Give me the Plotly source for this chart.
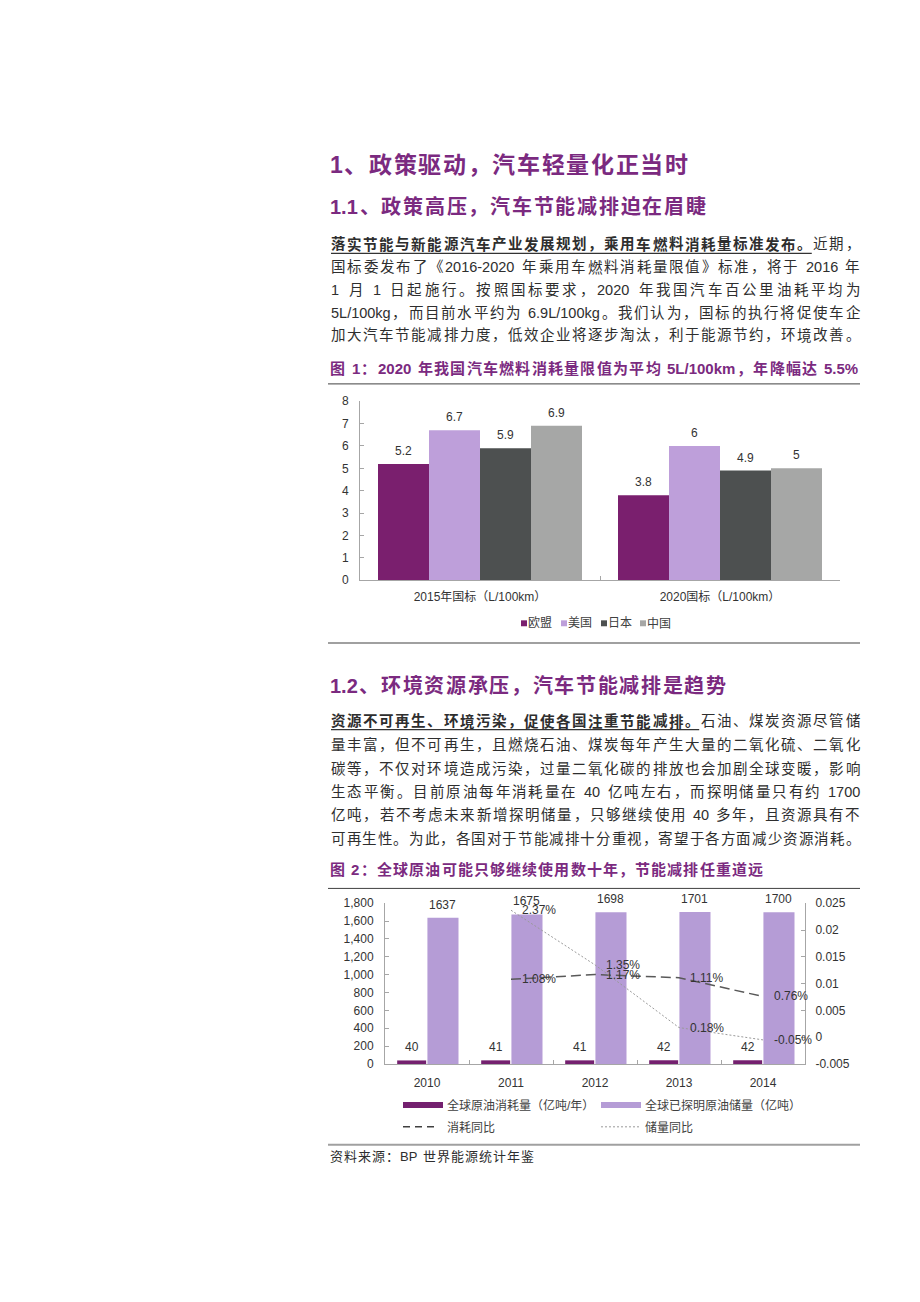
import plotly.graph_objects as go

W, H = 920, 1302


def px(x):
    return x / W


def py(y):
    return 1 - y / H


# ---------------- data ----------------
# Figure 1
cat1 = ["2015年国标（L/100km）", "2020国标（L/100km）"]
regions = ["欧盟", "美国", "日本", "中国"]
eu_vals = [5.2, 3.8]
us_vals = [6.7, 6.0]
jp_vals = [5.9, 4.9]
cn_vals = [6.9, 5.0]
y1_ticks = [0, 1, 2, 3, 4, 5, 6, 7, 8]

# Figure 2
years = ["2010", "2011", "2012", "2013", "2014"]
consumption = [40, 41, 41, 42, 42]
reserves = [1637, 1675, 1698, 1701, 1700]
yoy_years = ["2011", "2012", "2013", "2014"]
cons_yoy = [0.0108, 0.0117, 0.0111, 0.0076]
res_yoy = [0.0237, 0.0135, 0.0018, -0.0005]
left_ticks = [0, 200, 400, 600, 800, 1000, 1200, 1400, 1600, 1800]
right_tickvals = [-0.005, 0, 0.005, 0.01, 0.015, 0.02, 0.025]
right_ticktext = ["-0.005", "0", "0.005", "0.01", "0.015", "0.02", "0.025"]
series2 = ["全球原油消耗量（亿吨/年）", "全球已探明原油储量（亿吨）", "消耗同比", "储量同比"]

# ---------------- styles ----------------
FONT = "Liberation Sans, Arial, Noto Sans CJK SC, sans-serif"
PURPLE = "#7B2A80"
BODY = "#2e2e2e"
TXT = "#333333"
AX = "#A6A6A6"
colors1 = ["#7A1F6E", "#BE9FDA", "#4D5050", "#A6A7A6"]
c_cons = "#74206F"
c_res = "#B59CD6"

annotations = []
shapes = []

W_REG = {'.': 0.278, ',': 0.278, '/': 0.278, '-': 0.333, '%': 0.889, 'L': 0.556,
         'k': 0.5, 'g': 0.556, 'm': 0.833, 'B': 0.667, 'P': 0.667}
W_BOLD = {'.': 0.278, ',': 0.278, '/': 0.278, '-': 0.333, '%': 0.889, 'L': 0.611,
          'k': 0.556, 'g': 0.611, 'm': 0.889, 'B': 0.722, 'P': 0.667}


def tok_width(t, size, bold):
    if t == ' ':
        return 0.278 * size
    if ord(t[0]) >= 0x2E80:
        return size
    tab = W_BOLD if bold else W_REG
    return sum(tab.get(c, 0.556) for c in t) * size


def tokenize(segments):
    toks = []
    for text, bold in segments:
        buf = ''
        for ch in text:
            if ord(ch) >= 0x2E80 or ch == ' ':
                if buf:
                    toks.append((buf, bold))
                    buf = ''
                toks.append((ch, bold))
            else:
                buf += ch
        if buf:
            toks.append((buf, bold))
    return toks


def text_line(segments, x0, x1, yc, size, color):
    toks = tokenize(segments)
    widths = [tok_width(t, size, b) for t, b in toks]
    n = len(toks)
    gap = (x1 - x0 - sum(widths)) / (n - 1) if n > 1 else 0
    x = x0
    bold_end = None
    for (t, b), w in zip(toks, widths):
        if t != ' ':
            annotations.append(dict(
                xref='paper', yref='paper', x=px(x), y=py(yc),
                xanchor='left', yanchor='middle', showarrow=False,
                text=('<b>%s</b>' % t) if b else t,
                font=dict(family=FONT, size=size, color=color),
                borderpad=0, borderwidth=0))
        if b:
            bold_end = x + w
        x += w + gap
    return bold_end


def hline(x0, x1, y, color, width, dash='solid'):
    shapes.append(dict(type='line', xref='paper', yref='paper',
                       x0=px(x0), x1=px(x1), y0=py(y), y1=py(y),
                       line=dict(color=color, width=width, dash=dash)))


def rect(x0, x1, y0, y1, color):
    shapes.append(dict(type='rect', xref='paper', yref='paper',
                       x0=px(x0), x1=px(x1), y0=py(y1), y1=py(y0),
                       fillcolor=color, line=dict(width=0)))


def label(x, y, text, size=12, color=TXT, anchor='left'):
    annotations.append(dict(xref='paper', yref='paper', x=px(x), y=py(y),
                            xanchor=anchor, yanchor='middle', showarrow=False,
                            text=text, font=dict(family=FONT, size=size, color=color),
                            borderpad=0, borderwidth=0))


# ---------------- page text ----------------
L, R = 331, 860
text_line([("1、政策驱动，汽车轻量化正当时", True)], 330, 688, 160, 23, PURPLE)
text_line([("1.1、政策高压，汽车节能减排迫在眉睫", True)], 330, 706, 202, 20, PURPLE)

para1 = [
    [("落实节能与新能源汽车产业发展规划，乘用车燃料消耗量标准发布。", True), ("近期，", False)],
    [("国标委发布了《2016-2020 年乘用车燃料消耗量限值》标准，将于 2016 年", False)],
    [("1 月 1 日起施行。按照国标要求，2020 年我国汽车百公里油耗平均为", False)],
    [("5L/100kg，而目前水平约为 6.9L/100kg。我们认为，国标的执行将促使车企", False)],
    [("加大汽车节能减排力度，低效企业将逐步淘汰，利于能源节约，环境改善。", False)],
]
p1_y = [240, 263, 286, 309, 332]
for segs, yy in zip(para1, p1_y):
    be = text_line(segs, L, R, yy, 14.5, BODY)
    if be:
        hline(L, be, yy + 9, '#333333', 1.2)

text_line([("图 1：2020 年我国汽车燃料消耗量限值为平均 5L/100km，年降幅达 5.5%", True)],
          330, 858, 365, 15, PURPLE)
hline(328, 860, 381, '#404040', 1)
hline(328, 860, 643, '#A0A0A0', 2)

text_line([("1.2、环境资源承压，汽车节能减排是趋势", True)], 330, 726, 686, 20, PURPLE)
para2 = [
    [("资源不可再生、环境污染，促使各国注重节能减排。", True), ("石油、煤炭资源尽管储", False)],
    [("量丰富，但不可再生，且燃烧石油、煤炭每年产生大量的二氧化硫、二氧化", False)],
    [("碳等，不仅对环境造成污染，过量二氧化碳的排放也会加剧全球变暖，影响", False)],
    [("生态平衡。目前原油每年消耗量在 40 亿吨左右，而探明储量只有约 1700", False)],
    [("亿吨，若不考虑未来新增探明储量，只够继续使用 40 多年，且资源具有不", False)],
    [("可再生性。为此，各国对于节能减排十分重视，寄望于各方面减少资源消耗。", False)],
]
p2_y = [722, 746, 770, 794, 817, 841]
for segs, yy in zip(para2, p2_y):
    be = text_line(segs, L, R, yy, 14.5, BODY)
    if be:
        hline(L, be, yy + 8.5, '#333333', 1.2)

text_line([("图 2：全球原油可能只够继续使用数十年，节能减排任重道远", True)],
          330, 763, 872, 15, PURPLE)
hline(328, 860, 891, '#404040', 1)
hline(328, 860, 1150, '#A0A0A0', 2)
text_line([("资料来源：BP 世界能源统计年鉴", False)], 330, 534, 1162, 13, BODY)

# ---------------- figure ----------------
fig = go.Figure()

# Chart 1 bars
vals1 = [eu_vals, us_vals, jp_vals, cn_vals]
bw = 0.2125
cat_px1 = 240.0
for i, (name, vals) in enumerate(zip(regions, vals1)):
    off = -0.425 + i * bw
    fig.add_trace(go.Bar(x=cat1, y=vals, name=name, width=bw, offset=off,
                         marker=dict(color=colors1[i], line=dict(width=0)),
                         xaxis='x', yaxis='y'))
    for ci, v in enumerate(vals):
        annotations.append(dict(xref='x', yref='y', x=ci, y=v,
                                xshift=(off + bw / 2) * cat_px1, yshift=13,
                                xanchor='center', yanchor='middle', showarrow=False,
                                text='%g' % v, font=dict(family=FONT, size=12, color=TXT)))

# Chart 1 legend (manual)
leg_x = [521, 561, 601, 640]
for i, name in enumerate(regions):
    rect(leg_x[i], leg_x[i] + 6, 620, 626, colors1[i])
    label(leg_x[i] + 7, 623, name, 12, '#404040')

# Chart 2 bars
cat_px2 = 84.0
w_c, o_c = 0.345, -0.355
w_r, o_r = 0.37, 0.005
fig.add_trace(go.Bar(x=years, y=consumption, name=series2[0], width=w_c, offset=o_c,
                     marker=dict(color=c_cons, line=dict(width=0)), xaxis='x2', yaxis='y2'))
fig.add_trace(go.Bar(x=years, y=reserves, name=series2[1], width=w_r, offset=o_r,
                     marker=dict(color=c_res, line=dict(width=0)), xaxis='x2', yaxis='y2'))
for yi, v in enumerate(consumption):
    annotations.append(dict(xref='x2', yref='y2', x=yi, y=v,
                            xshift=(o_c + w_c / 2) * cat_px2, yshift=13,
                            xanchor='center', yanchor='middle', showarrow=False,
                            text=str(v), font=dict(family=FONT, size=12, color=TXT)))
for yi, v in enumerate(reserves):
    annotations.append(dict(xref='x2', yref='y2', x=yi, y=v,
                            xshift=(o_r + w_r / 2) * cat_px2, yshift=13,
                            xanchor='center', yanchor='middle', showarrow=False,
                            text=str(v), font=dict(family=FONT, size=12, color=TXT)))

# Chart 2 lines (secondary axis)
fig.add_trace(go.Scatter(x=yoy_years, y=cons_yoy, name=series2[2], mode='lines',
                         line=dict(color='#595959', width=1.5, dash='10px,5px'),
                         xaxis='x2', yaxis='y3'))
fig.add_trace(go.Scatter(x=yoy_years, y=res_yoy, name=series2[3], mode='lines',
                         line=dict(color='#9A9A9A', width=1, dash='2px,2px'),
                         xaxis='x2', yaxis='y3'))
for arr in (cons_yoy, res_yoy):
    for yr, v in zip(yoy_years, arr):
        annotations.append(dict(xref='x2', yref='y3', x=years.index(yr), y=v, xshift=11,
                                xanchor='left', yanchor='middle', showarrow=False,
                                text='%.2f%%' % (v * 100),
                                font=dict(family=FONT, size=12, color=TXT),
                                borderpad=0, borderwidth=0))

# Chart 2 legend (manual)
rect(403, 443, 1107, 1113, c_cons)
label(447, 1110, series2[0], 12, '#404040')
rect(601, 641, 1107, 1113, c_res)
label(645, 1110, series2[1], 12, '#404040')
hline(403, 437, 1132, '#404040', 1.5, '7px,5px')
label(447, 1133, series2[2], 12, '#404040')
hline(601, 641, 1132, '#9A9A9A', 1, '2px,2px')
label(645, 1133, series2[3], 12, '#404040')

axis_common = dict(showline=True, linecolor=AX, linewidth=1, ticks='inside', ticklen=4,
                   tickcolor=AX, showgrid=False, zeroline=False,
                   tickfont=dict(family=FONT, size=12, color=TXT))

fig.update_layout(
    width=W, height=H, margin=dict(l=0, r=0, t=0, b=0),
    paper_bgcolor='white', plot_bgcolor='white', showlegend=False,
    barmode='group',
    font=dict(family=FONT, size=12, color=TXT),
    xaxis=dict(domain=[px(360), px(840)], anchor='y', type='category',
               range=[-0.5, 1.5], autorange=False,
               tickson='boundaries', ticklabelstandoff=5, **axis_common),
    yaxis=dict(domain=[py(579.5), py(398.5)], anchor='x', range=[0, 8], autorange=False,
               tickvals=y1_ticks, ticklabelstandoff=8, **axis_common),
    xaxis2=dict(domain=[px(385), px(805)], anchor='y2', type='category',
                range=[-0.5, 4.5], autorange=False, tickangle=0,
                tickson='boundaries', ticklabelstandoff=8, **axis_common),
    yaxis2=dict(domain=[py(1068.5), py(906)], anchor='x2', range=[0, 1800], autorange=False,
                tickvals=left_ticks, tickformat=',', ticklabelstandoff=8, **axis_common),
    yaxis3=dict(overlaying='y2', side='right', anchor='x2', range=[-0.005, 0.025],
                autorange=False, tickvals=right_tickvals, ticktext=right_ticktext,
                ticklabelstandoff=7, **axis_common),
    annotations=annotations,
    shapes=shapes,
)

fig.write_html("out.html")
